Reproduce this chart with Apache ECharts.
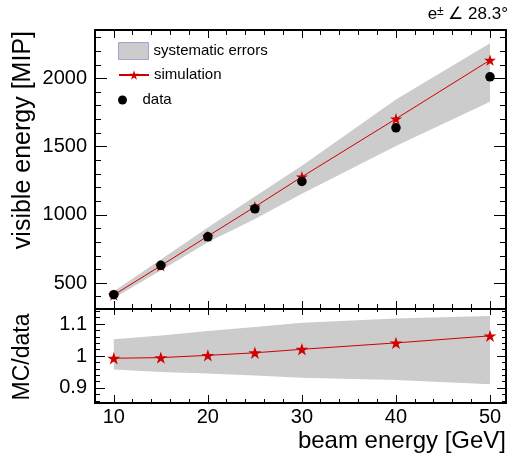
<!DOCTYPE html>
<html>
<head>
<meta charset="utf-8">
<script src="https://cdn.jsdelivr.net/npm/echarts@6/dist/echarts.min.js"></script>
<style>
  html, body { margin: 0; padding: 0; background: #fff; }
  #chart { width: 510px; height: 461px; }
</style>
</head>
<body>
<div id="chart"></div>
<script>
// Beam energies of the runs [GeV]
const beamEnergy = [10, 15, 20, 25, 30, 40, 50];
// Mean visible energy [MIP]
const simVisible  = [413, 627, 844, 1059, 1279, 1704, 2134];
const dataVisible = [415, 630, 839, 1044, 1245, 1638, 2012];
// Systematic error band on the visible energy
const sysLow  = [390, 592, 800, 970, 1155, 1505, 1830];
const sysHigh = [440, 672, 908, 1135, 1360, 1846, 2257];
// MC/data ratio and its systematic band
const ratioMC   = [0.993, 0.995, 1.002, 1.010, 1.021, 1.041, 1.063];
const ratioLow  = [0.958, 0.950, 0.945, 0.939, 0.932, 0.925, 0.912];
const ratioHigh = [1.052, 1.064, 1.078, 1.091, 1.104, 1.117, 1.125];

// Tick labels
const xTickLabels    = [10, 20, 30, 40, 50];
const yTopTickLabels = [500, 1000, 1500, 2000];
const yBotTickLabels = [0.9, 1, 1.1];

function steps(from, to, step) {
  const out = [];
  for (let v = from; v <= to + 1e-9; v += step) out.push(Math.round(v * 1000) / 1000);
  return out;
}

const xRange = [8, 51.7];
const yTopRange = [310, 2355];
const yBotRange = [0.853, 1.147];

const xMinorTicks = steps(8, 50, 2);
const yTopMinorTicks = steps(400, 2300, 100);
const yBotMinorTicks = steps(0.86, 1.14, 0.02);

const FONT = '"Liberation Sans", Arial, Helvetica, sans-serif';
const RED = '#d10000';
const STAR = 'path://M50,0L61.23,34.55L97.55,34.55L68.17,55.9L79.39,90.45L50,69.1L20.61,90.45L31.83,55.9L2.45,34.55L38.77,34.55Z';

function axis(gridIndex, position, range, ticks, tickLen, frame, labels, margin) {
  return {
    type: 'value',
    gridIndex: gridIndex,
    position: position,
    min: range[0],
    max: range[1],
    axisLine: { show: frame, onZero: false, lineStyle: { color: '#000', width: 2 } },
    axisTick: { show: true, inside: true, length: tickLen, customValues: ticks,
                lineStyle: { color: '#000', width: 1 } },
    axisLabel: labels
      ? { show: true, customValues: labels, fontSize: 20, fontFamily: FONT, color: '#000', margin: margin,
          formatter: (v) => String(v) }
      : { show: false },
    splitLine: { show: false },
    minorTick: { show: false }
  };
}

const xAxes = [
  // upper panel
  axis(0, 'bottom', xRange, xTickLabels, 8, true),
  axis(0, 'bottom', xRange, xMinorTicks, 5, false),
  axis(0, 'top', xRange, xTickLabels, 8, true),
  axis(0, 'top', xRange, xMinorTicks, 5, false),
  // ratio panel
  axis(1, 'bottom', xRange, xTickLabels, 8, true, xTickLabels, 4),
  axis(1, 'bottom', xRange, xMinorTicks, 4, false),
  axis(1, 'top', xRange, xTickLabels, 6, true),
  axis(1, 'top', xRange, xMinorTicks, 3, false)
];

const yAxes = [
  axis(0, 'left', yTopRange, yTopTickLabels, 12, true, yTopTickLabels, 8),
  axis(0, 'left', yTopRange, yTopMinorTicks, 6, false),
  axis(0, 'right', yTopRange, yTopTickLabels, 12, true),
  axis(0, 'right', yTopRange, yTopMinorTicks, 6, false),
  axis(1, 'left', yBotRange, yBotTickLabels, 10, true, yBotTickLabels, 8),
  axis(1, 'left', yBotRange, yBotMinorTicks, 5, false),
  axis(1, 'right', yBotRange, yBotTickLabels, 9, true),
  axis(1, 'right', yBotRange, yBotMinorTicks, 4, false)
];

// Filled band between lo and hi, drawn once as a single polygon
function bandItem(lo, hi) {
  return function (params, api) {
    if (params.dataIndex !== 0) return null;
    const pts = [];
    for (let i = 0; i < beamEnergy.length; i++) pts.push(api.coord([beamEnergy[i], hi[i]]));
    for (let i = beamEnergy.length - 1; i >= 0; i--) pts.push(api.coord([beamEnergy[i], lo[i]]));
    return { type: 'polygon', shape: { points: pts }, style: { fill: '#cccccc', stroke: null } };
  };
}

const pairs = (ys) => beamEnergy.map((x, i) => [x, ys[i]]);
const legendText = { fontFamily: FONT, fontSize: 15, color: '#000' };

const option = {
  animation: false,
  backgroundColor: '#fff',
  title: {
    text: '{e|e}{s|±} ∠ 28.3°',
    right: 2,
    top: 6,
    padding: 0,
    textStyle: {
      fontFamily: FONT, fontSize: 17, fontWeight: 'normal', color: '#000',
      rich: {
        e: { fontFamily: FONT, fontSize: 17, color: '#000' },
        s: { fontFamily: FONT, fontSize: 12, color: '#000', verticalAlign: 'top' }
      }
    }
  },
  legend: [
    { left: 118, top: 42, padding: 0, itemWidth: 30, itemHeight: 17, selectedMode: false,
      textStyle: legendText,
      data: [{ name: 'systematic errors', icon: 'rect',
               itemStyle: { color: '#cccccc', borderColor: '#a3a3dc', borderWidth: 1 } }] },
    { left: 118, top: 67.5, padding: 0, itemWidth: 30, itemHeight: 12, selectedMode: false,
      textStyle: legendText, data: ['simulation'] },
    { left: 118, top: 92.5, padding: 0, itemWidth: 30, itemHeight: 9, selectedMode: false,
      textStyle: legendText,
      data: [{ name: 'data', icon: 'circle', itemStyle: { color: '#000', opacity: 1 } }] }
  ],
  grid: [
    { left: 95, top: 30, width: 411, height: 279, outerBoundsMode: 'none' },
    { left: 95, top: 309, width: 411, height: 94, outerBoundsMode: 'none' }
  ],
  xAxis: xAxes,
  yAxis: yAxes,
  graphic: [
    { type: 'text', x: 23, y: 31, rotation: Math.PI / 2,
      style: { text: 'visible energy [MIP]', fontFamily: FONT, fontSize: 25, fill: '#000',
               align: 'right', verticalAlign: 'middle' } },
    { type: 'text', x: 23, y: 357, rotation: Math.PI / 2,
      style: { text: 'MC/data', fontFamily: FONT, fontSize: 23, fill: '#000',
               align: 'center', verticalAlign: 'middle' } },
    { type: 'text', x: 506, y: 441,
      style: { text: 'beam energy [GeV]', fontFamily: FONT, fontSize: 24, fill: '#000',
               align: 'right', verticalAlign: 'middle' } }
  ],
  series: [
    { type: 'custom', name: 'systematic errors', xAxisIndex: 0, yAxisIndex: 0,
      itemStyle: { color: '#cccccc' },
      data: beamEnergy.map((x, i) => [x, sysLow[i], sysHigh[i]]),
      encode: { x: 0, y: [1, 2] },
      renderItem: bandItem(sysLow, sysHigh), z: 1 },
    { type: 'line', name: 'simulation', xAxisIndex: 0, yAxisIndex: 0,
      data: pairs(simVisible), symbol: STAR, symbolSize: 12, symbolKeepAspect: true,
      lineStyle: { color: RED, width: 1 }, itemStyle: { color: RED }, z: 3 },
    { type: 'scatter', name: 'data', xAxisIndex: 0, yAxisIndex: 0,
      data: pairs(dataVisible), symbol: 'circle', symbolSize: 9.5,
      itemStyle: { color: '#000', opacity: 1 }, z: 4 },
    { type: 'custom', name: 'ratio band', xAxisIndex: 4, yAxisIndex: 4,
      itemStyle: { color: '#cccccc' },
      data: beamEnergy.map((x, i) => [x, ratioLow[i], ratioHigh[i]]),
      encode: { x: 0, y: [1, 2] },
      renderItem: bandItem(ratioLow, ratioHigh), z: 1 },
    { type: 'line', name: 'MC/data ratio', xAxisIndex: 4, yAxisIndex: 4,
      data: pairs(ratioMC), symbol: STAR, symbolSize: 13, symbolKeepAspect: true,
      lineStyle: { color: RED, width: 1 }, itemStyle: { color: RED }, z: 3 }
  ]
};

const chart = echarts.init(document.getElementById('chart'), null, { renderer: 'canvas' });
chart.setOption(option);
</script>
</body>
</html>
